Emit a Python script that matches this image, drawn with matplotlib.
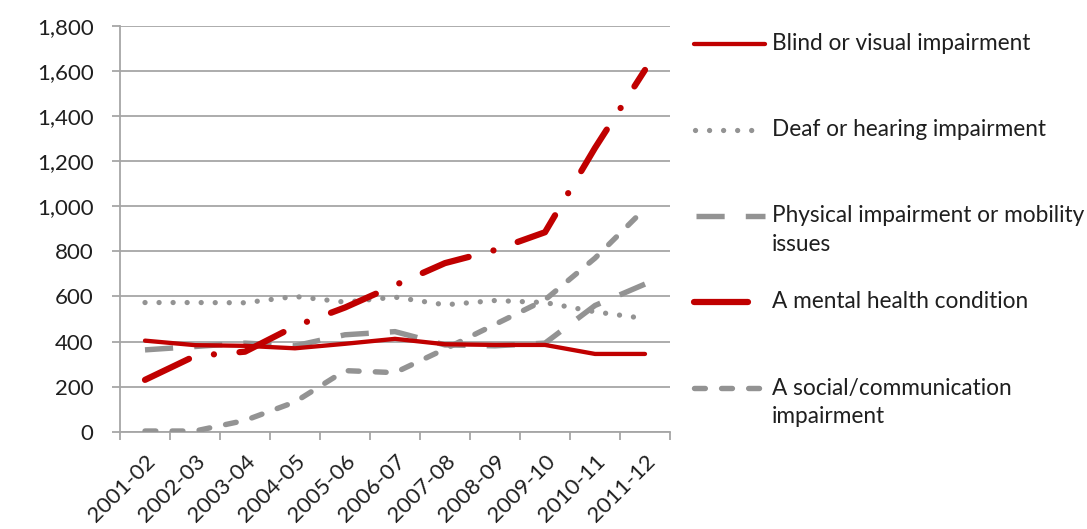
import matplotlib
matplotlib.use('Agg')
import matplotlib.pyplot as plt
from matplotlib.ticker import FuncFormatter, FixedLocator

years = ['2001-02', '2002-03', '2003-04', '2004-05', '2005-06', '2006-07',
         '2007-08', '2008-09', '2009-10', '2010-11', '2011-12']

blind = [404, 384, 381, 370, 390, 412, 388, 385, 385, 345, 345]
deaf = [573, 573, 572, 600, 575, 597, 563, 582, 573, 532, 502]
physical = [363, 378, 393, 381, 430, 444, 385, 381, 393, 560, 655]
mental = [230, 336, 355, 468, 551, 650, 748, 806, 885, 1259, 1605]
social = [3, 3, 50, 132, 271, 262, 367, 476, 585, 770, 990]

labels = ['Blind or visual impairment',
          'Deaf or hearing impairment',
          'Physical impairment or mobility\nissues',
          'A mental health condition',
          'A social/communication\nimpairment']

RED = '#C00000'
GREY = '#939393'
AXC = '#A6A6A6'
TXT = '#1F1F1F'

plt.rcParams['font.family'] = ['Lato', 'DejaVu Sans']

W, H = 1087, 529
fig = plt.figure(figsize=(W / 100, H / 100), dpi=100)

x0, x1, ytop, ybot = 120, 670, 26, 431.7
ax = fig.add_axes([x0 / W, (H - ybot) / H, (x1 - x0) / W, (ybot - ytop) / H])

styles = {
    'blind': dict(color=RED, lw=3.1, ls='-', solid_capstyle='round'),
    'deaf': dict(color=GREY, lw=3.8, ls=(0, (0.01, 2.65)), dash_capstyle='round'),
    'physical': dict(color=GREY, lw=3.9, ls=(0, (5.2, 3.9)), dash_capstyle='butt'),
    'mental': dict(color=RED, lw=4.5, ls=(0, (7.8, 4.1, 0.01, 4.1)), dash_capstyle='round'),
    'social': dict(color=GREY, lw=3.9, ls=(0, (2.0, 3.0)), dash_capstyle='round'),
}

xs = list(range(len(years)))
ax.plot(xs, social, **styles['social'], zorder=3)
ax.plot(xs, physical, **styles['physical'], zorder=3)
ax.plot(xs, deaf, **styles['deaf'], zorder=3)
ax.plot(xs, blind, **styles['blind'], zorder=4)
ax.plot(xs, mental, **styles['mental'], zorder=5)

ax.set_xlim(-0.5, len(years) - 0.5)
ax.set_ylim(0, 1800)
ax.set_yticks(range(0, 1801, 200))
ax.yaxis.set_major_formatter(FuncFormatter(lambda v, p: f'{int(v):,}'))
ax.grid(axis='y', color=AXC, lw=1.3, zorder=1)
ax.set_axisbelow(True)

ax.set_xticks(xs)
ax.set_xticklabels(years, rotation=45, ha='right', rotation_mode='anchor')
ax.xaxis.set_minor_locator(FixedLocator([i - 0.5 for i in range(len(years) + 1)]))
ax.tick_params(axis='x', which='major', length=0, pad=14, labelsize=16, labelcolor=TXT)
ax.tick_params(axis='x', which='minor', length=6, width=1.3, color=AXC, direction='out')
ax.tick_params(axis='y', length=6, width=1.3, color=AXC, pad=13, labelsize=16, labelcolor=TXT)

for s in ['top', 'right']:
    ax.spines[s].set_visible(False)
for s in ['left', 'bottom']:
    ax.spines[s].set_color(AXC)
    ax.spines[s].set_linewidth(1.3)

# legend drawn by hand in pixel coordinates
lg = fig.add_axes([0, 0, 1, 1])
lg.set_xlim(0, W)
lg.set_ylim(H, 0)
lg.axis('off')
lg.patch.set_alpha(0)

keys = ['blind', 'deaf', 'physical', 'mental', 'social']
ypos = [44, 130, 216, 302, 388]
xr = [(694, 765), (695, 756), (696, 765), (694, 748), (694, 766)]
for k, lab, y, (a, b) in zip(keys, labels, ypos, xr):
    st = dict(styles[k])
    if k == 'mental':
        st['ls'] = '-'
        st['solid_capstyle'] = 'round'
    lg.plot([a, b], [y, y], **st)
    for i, line in enumerate(lab.split('\n')):
        lg.text(772, y + i * 28.5, line, fontsize=16.3, color=TXT,
                va='center')

fig.savefig('out.png', dpi=100)
